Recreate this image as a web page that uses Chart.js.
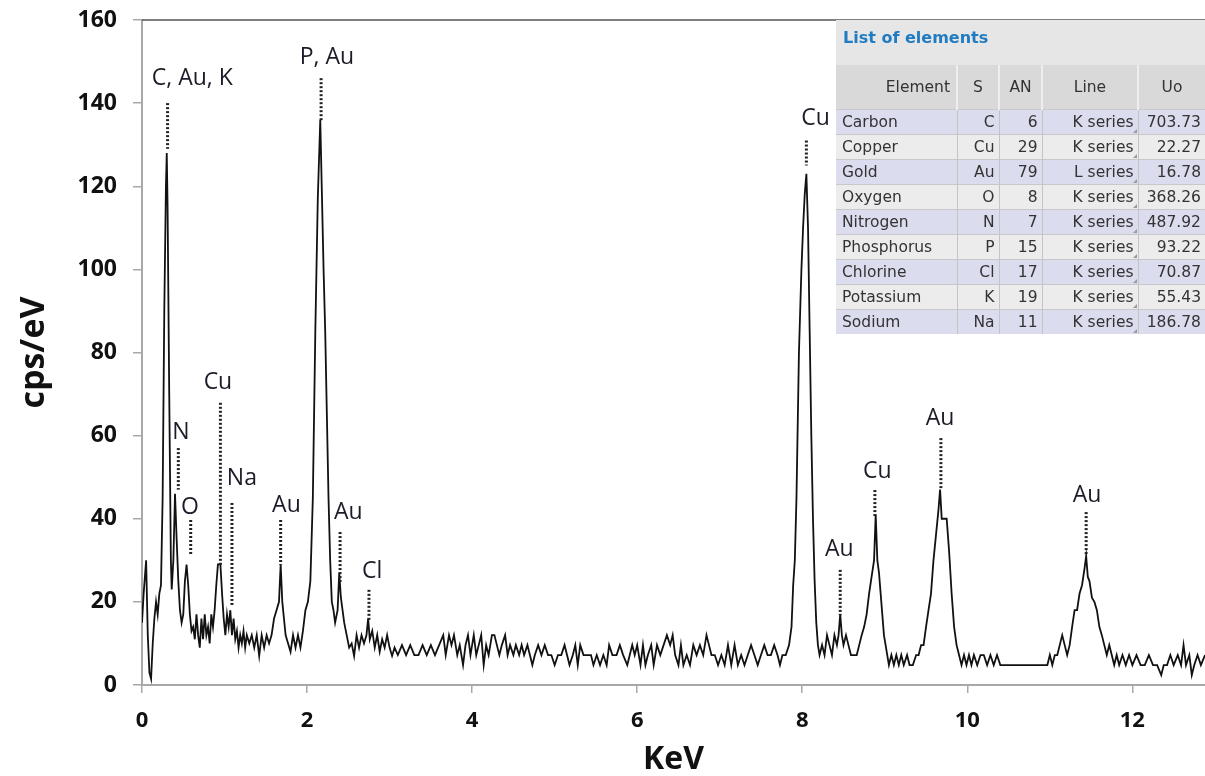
<!DOCTYPE html>
<html>
<head>
<meta charset="utf-8">
<script src="https://cdn.jsdelivr.net/npm/chart.js@4.4.1/dist/chart.umd.min.js"></script>
<style>
  body { margin: 0; background: #fff; }
  #wrap { position: relative; width: 1205px; height: 776px; }
  #spectrum { position: absolute; left: 0; top: 0; }
  #elements {
    position: absolute; left: 836px; top: 20px; width: 369px;
    border-collapse: collapse; font-family: "DejaVu Sans", Verdana, sans-serif;
    font-size: 15.5px; color: #333; table-layout: fixed;
  }
  #elements caption {
    background: #e6e6e6; color: #1f7bc2; font-weight: bold; font-size: 16px;
    text-align: left; padding: 8px 7px 0 7px; height: 45px; box-sizing: border-box;
  }
  #elements th {
    background: #d9d9d9; font-weight: normal; height: 44px; padding: 0 6px;
    border-left: 2px solid #eee; text-align: center;
  }
  #elements th:first-child { text-align: right; border-left: none; }
  #elements td {
    height: 24px; padding: 0 4px; text-align: right; border-left: 1px solid #c4c4c4;
    border-top: 1px solid #c8c8c8; position: relative; white-space: nowrap; overflow: hidden;
  }
  #elements td:first-child { text-align: left; border-left: none; padding-left: 6px; }
  #elements tr.odd td { background: #dcdcef; }
  #elements tr.even td { background: #ececec; }
  #elements td.line::after {
    content: ""; position: absolute; right: 1px; bottom: 1px;
    border-left: 4px solid transparent; border-bottom: 4px solid #999;
  }
</style>
</head>
<body>
<div id="wrap">
  <canvas id="spectrum" width="1205" height="776"></canvas>
  <table id="elements"></table>
</div>
<script>
// spectrum: energy (keV) and counts (cps/eV)
const keV = [
  0.00, 0.02, 0.05, 0.07, 0.09, 0.11, 0.13, 0.15, 0.17, 0.19, 0.21, 0.23, 0.25, 0.27, 0.29, 0.30,
  0.31, 0.33, 0.35, 0.36, 0.38, 0.40, 0.42, 0.44, 0.46, 0.48, 0.50, 0.52, 0.54, 0.56, 0.58, 0.60,
  0.62, 0.64, 0.66, 0.68, 0.70, 0.72, 0.74, 0.76, 0.78, 0.80, 0.82, 0.84, 0.86, 0.88, 0.90, 0.92,
  0.95, 0.97, 0.99, 1.01, 1.03, 1.05, 1.07, 1.09, 1.11, 1.13, 1.15, 1.17, 1.19, 1.21, 1.23, 1.25,
  1.27, 1.30, 1.33, 1.36, 1.39, 1.42, 1.45, 1.48, 1.51, 1.54, 1.57, 1.60, 1.63, 1.66, 1.68, 1.70,
  1.72, 1.74, 1.77, 1.80, 1.83, 1.86, 1.89, 1.92, 1.95, 1.98, 2.01, 2.04, 2.07, 2.10, 2.13, 2.16,
  2.18, 2.20, 2.22, 2.24, 2.26, 2.28, 2.30, 2.32, 2.34, 2.37, 2.39, 2.41, 2.43, 2.45, 2.48, 2.51,
  2.54, 2.57, 2.60, 2.63, 2.66, 2.69, 2.72, 2.74, 2.76, 2.79, 2.82, 2.85, 2.88, 2.91, 2.94, 2.97,
  3.00, 3.03, 3.06, 3.10, 3.15, 3.20, 3.25, 3.30, 3.35, 3.40, 3.45, 3.50, 3.55, 3.60, 3.65, 3.68,
  3.72, 3.75, 3.78, 3.82, 3.85, 3.89, 3.92, 3.95, 3.98, 4.02, 4.05, 4.08, 4.11, 4.14, 4.17, 4.20,
  4.24, 4.27, 4.30, 4.33, 4.36, 4.40, 4.43, 4.46, 4.50, 4.53, 4.57, 4.60, 4.63, 4.67, 4.70, 4.73,
  4.76, 4.80, 4.84, 4.88, 4.92, 4.96, 5.00, 5.04, 5.08, 5.12, 5.15, 5.18, 5.22, 5.25, 5.28, 5.31,
  5.35, 5.40, 5.44, 5.47, 5.51, 5.55, 5.59, 5.63, 5.66, 5.70, 5.75, 5.79, 5.83, 5.88, 5.91, 5.94,
  5.97, 6.00, 6.04, 6.07, 6.10, 6.13, 6.17, 6.20, 6.24, 6.28, 6.32, 6.36, 6.40, 6.43, 6.46, 6.50,
  6.53, 6.56, 6.60, 6.64, 6.68, 6.72, 6.76, 6.80, 6.84, 6.87, 6.90, 6.94, 6.98, 7.02, 7.06, 7.10,
  7.14, 7.18, 7.22, 7.26, 7.30, 7.34, 7.38, 7.42, 7.46, 7.50, 7.54, 7.58, 7.62, 7.66, 7.70, 7.73,
  7.76, 7.80, 7.84, 7.87, 7.89, 7.91, 7.93, 7.96, 7.99, 8.01, 8.03, 8.05, 8.07, 8.09, 8.11, 8.13,
  8.15, 8.17, 8.19, 8.21, 8.24, 8.27, 8.30, 8.33, 8.36, 8.39, 8.42, 8.44, 8.46, 8.48, 8.50, 8.53,
  8.56, 8.59, 8.62, 8.66, 8.69, 8.72, 8.75, 8.78, 8.81, 8.84, 8.87, 8.89, 8.91, 8.93, 8.95, 8.97,
  8.99, 9.01, 9.03, 9.05, 9.08, 9.11, 9.14, 9.17, 9.20, 9.23, 9.27, 9.30, 9.34, 9.38, 9.41, 9.44,
  9.47, 9.50, 9.53, 9.56, 9.59, 9.62, 9.65, 9.67, 9.69, 9.72, 9.75, 9.78, 9.81, 9.84, 9.87, 9.90,
  9.93, 9.96, 9.99, 10.02, 10.05, 10.08, 10.12, 10.16, 10.20, 10.24, 10.28, 10.32, 10.36, 10.40, 10.50, 10.60,
  10.70, 10.80, 10.90, 10.97, 11.00, 11.03, 11.06, 11.09, 11.12, 11.15, 11.18, 11.21, 11.24, 11.27, 11.30, 11.33,
  11.36, 11.39, 11.42, 11.44, 11.46, 11.48, 11.51, 11.54, 11.57, 11.60, 11.63, 11.66, 11.69, 11.72, 11.75, 11.78,
  11.81, 11.84, 11.88, 11.92, 11.96, 12.00, 12.05, 12.10, 12.15, 12.20, 12.25, 12.30, 12.35, 12.38, 12.42, 12.46,
  12.50, 12.55, 12.59, 12.62, 12.65, 12.69, 12.72, 12.75, 12.79, 12.83, 12.88
];
const cps = [
  15, 22, 30, 12, 3, 1.5, 10, 16, 20, 17, 22, 24, 45, 90, 120, 128,
  115, 70, 30, 23, 30, 46, 35, 25, 18, 15, 17, 25, 29, 24, 17, 13,
  14, 11, 17, 12, 9, 16, 11, 17, 12, 14, 10, 17, 14, 18, 24, 29,
  29, 22, 16, 12, 17, 14, 18, 12, 16, 11, 13, 9, 12, 10, 13, 9,
  12, 10, 12, 9, 12, 7, 12, 9, 12, 10, 12, 16, 18, 20, 29, 20,
  16, 12, 10, 8, 12, 9, 12, 9, 13, 18, 20, 25, 45, 85, 117, 136,
  118, 100, 85, 65, 45, 30, 20, 18, 15, 18, 27, 21, 18, 15, 12, 9,
  10, 7, 12, 9, 12, 10, 12, 16, 11, 13, 9, 12, 8, 11, 9, 12,
  9, 7, 9, 7.2, 9.6, 7.2, 9.6, 7.2, 7.2, 9.6, 7.2, 9.6, 7.2, 9.6, 12, 7.2,
  12, 9.6, 12, 7.2, 9.6, 4.8, 9.6, 12, 7.2, 12, 7.2, 9.6, 12, 4.8, 9.6, 7.2,
  12, 12, 9.6, 7.2, 9.6, 12, 7.2, 9.6, 7.2, 9.6, 7.2, 9.6, 7.2, 9.6, 7.2, 4.8,
  7.2, 9.6, 7.2, 9.6, 7.2, 7.2, 4.8, 7.2, 7.2, 9.6, 7.2, 4.8, 7.2, 9.6, 4.8, 9.6,
  7.2, 7.2, 7.2, 4.8, 7.2, 4.8, 7.2, 4.8, 9.6, 7.2, 7.2, 9.6, 7.2, 4.8, 7.2, 9.6,
  7.2, 9.6, 4.8, 9.6, 4.8, 7.2, 9.6, 4.8, 9.6, 7.2, 9.6, 12, 9.6, 12, 7.2, 4.8,
  9.6, 4.8, 7.2, 4.8, 9.6, 7.2, 9.6, 7.2, 12, 9.6, 7.2, 7.2, 4.8, 7.2, 4.8, 9.6,
  4.8, 9.6, 4.8, 7.2, 4.8, 7.2, 9.6, 7.2, 4.8, 7.2, 9.6, 7.2, 7.2, 9.6, 7.2, 4.8,
  7.2, 7.2, 9.6, 14, 24, 30, 45, 80, 100, 110, 118, 123, 110, 85, 60, 40,
  25, 15, 9.6, 7.2, 9.6, 7.2, 12, 9.6, 7.2, 12, 9.6, 12, 17, 12, 9.6, 12,
  9.6, 7.2, 7.2, 7.2, 9.6, 12, 14, 17, 22, 26, 30, 41, 30, 27, 22, 17,
  12, 9.6, 7.2, 4.8, 7.2, 4.8, 7.2, 4.8, 7.2, 4.8, 7.2, 4.8, 4.8, 7.2, 7.2, 9.6,
  9.6, 14, 18, 22, 30, 36, 42, 47, 40, 40, 40, 32, 22, 14, 9.6, 7.2,
  4.8, 7.2, 4.8, 7.2, 4.8, 7.2, 4.8, 7.2, 7.2, 4.8, 7.2, 4.8, 7.2, 4.8, 4.8, 4.8,
  4.8, 4.8, 4.8, 4.8, 7.2, 4.8, 7.2, 7.2, 9.6, 12, 9.6, 7.2, 9.6, 14, 18, 18,
  22, 24, 28, 31, 26, 25, 21, 20, 18, 14, 12, 9.6, 7.2, 9.6, 7.2, 4.8,
  7.2, 4.8, 7.2, 4.8, 7.2, 4.8, 7.2, 4.8, 4.8, 7.2, 4.8, 4.8, 2.4, 4.8, 4.8, 7.2,
  4.8, 7.2, 4.8, 9.6, 4.8, 7.2, 2.4, 4.8, 7.2, 4.8, 7.2
];
const yTicks = [0, 20, 40, 60, 80, 100, 120, 140, 160];
const xTicks = [0, 2, 4, 6, 8, 10, 12];

// peak labels: text, text position, dotted marker position and extent
const peakText = ['C, Au, K', 'N', 'O', 'Cu', 'Na', 'Au', 'P, Au', 'Au', 'Cl', 'Cu', 'Au', 'Cu', 'Au', 'Au'];
const textKeV  = [0.61, 0.47, 0.58, 0.92, 1.21, 1.75, 2.24, 2.50, 2.79, 8.16, 8.45, 8.91, 9.67, 11.45];
const textCps  = [146, 60.8, 42.8, 72.7, 49.8, 43.3, 151, 41.4, 27.4, 136.4, 32.5, 51.3, 64.2, 45.7];
const markKeV  = [0.31, 0.44, 0.59, 0.95, 1.09, 1.68, 2.17, 2.40, 2.75, 8.05, 8.46, 8.88, 9.68, 11.44];
const markTop  = [140, 57, 39.7, 67.9, 43.8, 39.7, 146, 36.8, 22.9, 131, 27.7, 46.9, 59.4, 41.6];
const markBot  = [129, 47, 31.3, 28.9, 19.2, 28.9, 135.5, 24.5, 15.6, 125, 16.8, 40.4, 46.9, 31.3];

// element table
const elNames  = ['Carbon', 'Copper', 'Gold', 'Oxygen', 'Nitrogen', 'Phosphorus', 'Chlorine', 'Potassium', 'Sodium'];
const elSymbol = ['C', 'Cu', 'Au', 'O', 'N', 'P', 'Cl', 'K', 'Na'];
const elAN     = [6, 29, 79, 8, 7, 15, 17, 19, 11];
const elLine   = ['K series', 'K series', 'L series', 'K series', 'K series', 'K series', 'K series', 'K series', 'K series'];
const elUo     = ['703.73', '22.27', '16.78', '368.26', '487.92', '93.22', '70.87', '55.43', '186.78'];

const tbl = document.getElementById('elements');
let html = '<caption>List of elements</caption>' +
  '<colgroup><col style="width:121px"><col style="width:42px"><col style="width:43px"><col style="width:96px"><col style="width:67px"></colgroup>' +
  '<tr><th>Element</th><th>S</th><th>AN</th><th>Line</th><th>Uo</th></tr>';
elNames.forEach((n, i) => {
  html += '<tr class="' + (i % 2 ? 'even' : 'odd') + '"><td>' + n + '</td><td>' + elSymbol[i] + '</td><td>' +
    elAN[i] + '</td><td class="line">' + elLine[i] + '</td><td>' + elUo[i] + '</td></tr>';
});
tbl.innerHTML = html;

const peakMarks = {
  id: 'peakMarks',
  afterDatasetsDraw(chart) {
    const {ctx, chartArea, scales: {x, y}} = chart;
    ctx.save();
    // frame top line
    ctx.strokeStyle = '#555';
    ctx.lineWidth = 1.5;
    ctx.beginPath();
    ctx.moveTo(chartArea.left, chartArea.top);
    ctx.lineTo(chartArea.right, chartArea.top);
    ctx.stroke();

    ctx.strokeStyle = '#222';
    ctx.lineWidth = 3;
    ctx.setLineDash([2, 2]);
    markKeV.forEach((k, i) => {
      const px = x.getPixelForValue(k);
      ctx.beginPath();
      ctx.moveTo(px, y.getPixelForValue(markTop[i]));
      ctx.lineTo(px, y.getPixelForValue(markBot[i]));
      ctx.stroke();
    });
    ctx.setLineDash([]);
    ctx.fillStyle = '#1c1c28';
    ctx.font = '23px "Open Sans"';
    ctx.textAlign = 'center';
    ctx.textBaseline = 'middle';
    peakText.forEach((t, i) => {
      ctx.fillText(t, x.getPixelForValue(textKeV[i]), y.getPixelForValue(textCps[i]));
    });
    ctx.restore();
  }
};

new Chart(document.getElementById('spectrum'), {
  type: 'line',
  data: {
    datasets: [{
      data: keV.map((k, i) => ({x: k, y: cps[i]})),
      borderColor: '#111',
      borderWidth: 1.8,
      pointRadius: 0,
      tension: 0,
      fill: false
    }]
  },
  options: {
    responsive: false,
    animation: false,
    layout: {padding: {top: 20, right: 0, left: 0, bottom: 0}},
    scales: {
      x: {
        type: 'linear', min: 0, max: 12.88,
        afterBuildTicks: s => { s.ticks = xTicks.map(v => ({value: v})); },
        afterFit: s => { s.height = 91; s.paddingLeft = 0; s.paddingRight = 0; },
        ticks: {color: '#111', padding: 15, maxRotation: 0, font: {family: 'Open Sans', size: 22, weight: 'bold'}},
        grid: {drawOnChartArea: false, tickLength: 8, color: '#a8a8a8', lineWidth: 1.5},
        border: {color: '#a8a8a8', width: 2},
        title: {display: true, text: 'KeV', color: '#111', padding: 0, font: {family: 'Open Sans', size: 32, weight: 'bold', lineHeight: 1}}
      },
      y: {
        min: 0, max: 160,
        afterBuildTicks: s => { s.ticks = yTicks.map(v => ({value: v})); },
        afterFit: s => { s.width = 142; s.paddingTop = 0; s.paddingBottom = 0; },
        ticks: {color: '#111', padding: 16, font: {family: 'Open Sans', size: 23, weight: 'bold'}},
        grid: {drawOnChartArea: false, tickLength: 9, color: '#a8a8a8', lineWidth: 1.5},
        border: {color: '#a8a8a8', width: 2},
        title: {display: true, text: 'cps/eV', color: '#111', padding: {top: 14}, font: {family: 'Open Sans', size: 34, weight: 'bold'}}
      }
    },
    plugins: {legend: {display: false}, tooltip: {enabled: false}}
  },
  plugins: [peakMarks]
});
</script>
</body>
</html>
